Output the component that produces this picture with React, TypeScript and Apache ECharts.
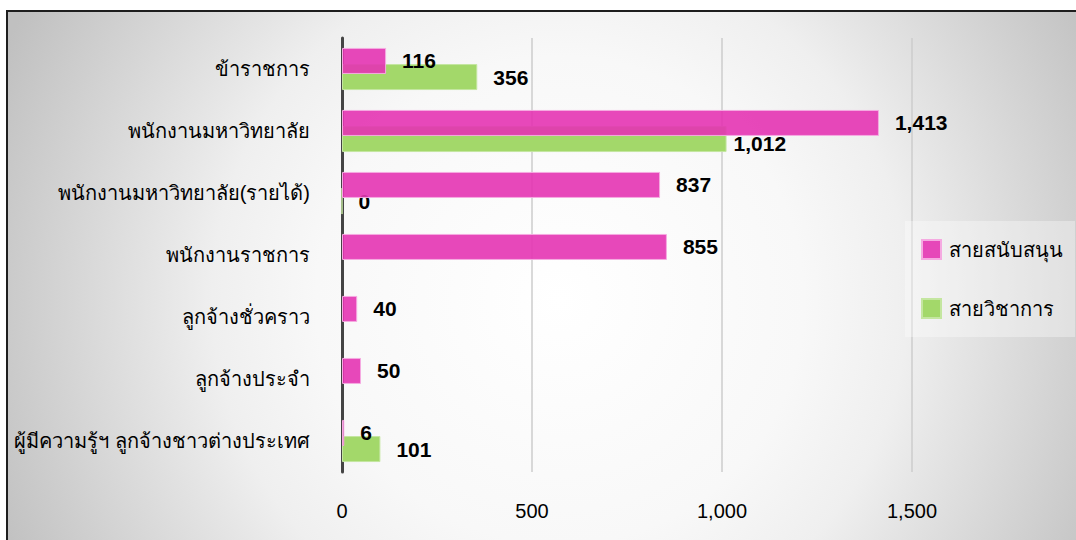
import React, { useEffect, useRef } from "react";
import * as echarts from "echarts";

const categories = [
  "ข้าราชการ",
  "พนักงานมหาวิทยาลัย",
  "พนักงานมหาวิทยาลัย(รายได้)",
  "พนักงานราชการ",
  "ลูกจ้างชั่วคราว",
  "ลูกจ้างประจำ",
  "ผู้มีความรู้ฯ ลูกจ้างชาวต่างประเทศ",
];
const seriesNames = ["สายสนับสนุน", "สายวิชาการ"];
const supportStaff = [116, 1413, 837, 855, 40, 50, 6];
const academicStaff: (number | null)[] = [356, 1012, 0, null, null, null, 101];

const FONT = "'Liberation Sans', 'DejaVu Sans', sans-serif";
const fmt = (v: number) => v.toLocaleString("en-US");

export default function App() {
  const ref = useRef<HTMLDivElement>(null);
  useEffect(() => {
    if (!ref.current) return;
    const chart = echarts.init(ref.current, null, { renderer: "svg" });
    const labelBase = {
      show: true,
      position: "right" as const,
      distance: 16,
      color: "#000",
      fontWeight: "bold" as const,
      fontSize: 21,
      fontFamily: FONT,
      formatter: (p: any) => fmt(p.value),
    };
    chart.setOption({
      animation: false,
      backgroundColor: "#ffffff",
      textStyle: { fontFamily: FONT },
      graphic: {
        elements: [
          {
            type: "rect",
            z: -10,
            silent: true,
            shape: { x: 7, y: 11, width: 1200, height: 700 },
            style: {
              fill: new echarts.graphic.RadialGradient(
                560,
                300,
                610,
                [
                  { offset: 0, color: "#ffffff" },
                  { offset: 0.4, color: "#f8f8f8" },
                  { offset: 0.57, color: "#efefef" },
                  { offset: 0.65, color: "#e6e6e6" },
                  { offset: 1, color: "#c0c0c0" },
                ],
                true
              ),
              stroke: "#1e1e1e",
              lineWidth: 2,
            },
          },
        ],
      },
      legend: {
        orient: "vertical",
        left: 905,
        top: 221,
        padding: [18, 12, 18, 16],
        itemWidth: 19,
        itemHeight: 19,
        itemGap: 38,
        icon: "rect",
        backgroundColor: "rgba(255,255,255,0.35)",
        textStyle: { fontSize: 20, color: "#000", fontFamily: FONT, padding: [0, 0, 0, 3] },
        data: seriesNames,
      },
      grid: { left: 342, top: 38, width: 760, height: 434, containLabel: false },
      xAxis: {
        type: "value",
        min: 0,
        max: 2000,
        interval: 500,
        axisLine: { show: false },
        axisTick: { show: false },
        axisLabel: {
          color: "#000",
          fontSize: 20,
          fontFamily: FONT,
          margin: 29,
          showMaxLabel: false,
          formatter: (v: number) => fmt(v),
        },
        splitLine: { show: true, lineStyle: { color: "#cccccc", width: 1.5 } },
      },
      yAxis: {
        type: "category",
        inverse: true,
        data: categories,
        axisLine: { show: true, lineStyle: { color: "#444444", width: 3 } },
        axisTick: { show: false },
        axisLabel: { color: "#000", fontSize: 20, fontFamily: FONT, margin: 32 },
        splitLine: { show: false },
      },
      series: [
        {
          name: seriesNames[0],
          type: "bar",
          z: 3,
          barWidth: 26,
          barGap: "-38%",
          data: supportStaff,
          itemStyle: {
            color: "rgba(228,52,178,0.9)",
            borderColor: "rgba(245,170,225,1)",
            borderWidth: 1,
          },
          label: labelBase,
        },
        {
          name: seriesNames[1],
          type: "bar",
          z: 2,
          barWidth: 26,
          barGap: "-38%",
          data: academicStaff.map((v, i) =>
            i === 1 ? { value: v, label: { offset: [-9, 4] } } : v
          ),
          itemStyle: {
            color: "#a3d86a",
            borderColor: "#c4e6a0",
            borderWidth: 1,
          },
          label: labelBase,
        },
      ],
    });
    return () => chart.dispose();
  }, []);
  return (
    <div
      style={{
        position: "fixed",
        left: 0,
        top: 0,
        width: 1076,
        height: 540,
        overflow: "hidden",
      }}
    >
      <div ref={ref} style={{ width: 1140, height: 600 }} />
    </div>
  );
}
